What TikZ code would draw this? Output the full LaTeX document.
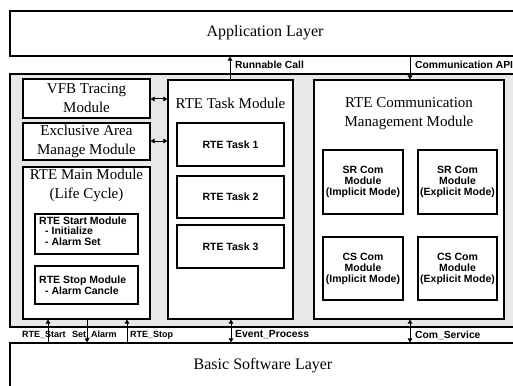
\documentclass[tikz,border=0pt]{standalone}
\usepackage{fontspec}
\setmainfont{Liberation Serif}
\newfontfamily\lsans{Liberation Sans}
\usetikzlibrary{fit,arrows.meta}
\begin{document}
\begin{tikzpicture}[x=1pt,y=-1pt,
  box/.style={draw, line width=1.1pt, fill=white, inner sep=0pt},
  ttl/.style={font=\fontsize{15}{19}\selectfont, align=center, inner sep=0pt},
  big/.style={font=\fontsize{16}{19}\selectfont, inner sep=0pt},
  lbl/.style={font=\lsans\bfseries\fontsize{10.3}{10}\selectfont, inner sep=0pt, anchor=west},
  lbs/.style={font=\lsans\bfseries\fontsize{9}{10}\selectfont, inner sep=0pt, anchor=west},
  sm/.style={font=\lsans\bfseries\fontsize{10.5}{11}\selectfont, align=center},
  lst/.style={font=\lsans\bfseries\fontsize{10.5}{9.6}\selectfont, align=left, inner sep=0pt},
  arr/.style={line width=1pt, -{Triangle[length=4pt,width=4.5pt]}},
  darr/.style={line width=1pt, {Triangle[length=4pt,width=4.5pt]}-{Triangle[length=4pt,width=4.5pt]}}]
\useasboundingbox (0,0) rectangle (513,385);
\fill[white] (0,0) rectangle (513,385);
% layers
\node[box, fit={(10,11)(530,56)}] (app) {};
\node[big] (apptxt) at (265,33) {Application Layer};
\node[draw, line width=1.1pt, fill=gray!18, inner sep=0pt, fit={(10,74)(530,327)}] (rte) {};
\node[box, fit={(10,343)(530,400)}] (bsw) {};
\node[big] (bswtxt) at (263,366) {Basic Software Layer};
% left column
\node[box, fit={(23,79)(150,118)}] (vfb) {};
\node[ttl] (vfbt) at (vfb.center) {VFB Tracing\\Module};
\node[box, fit={(23,123)(150,160)}] (excl) {};
\node[ttl] (exclt) at (excl.center) {Exclusive Area\\Manage Module};
\node[box, fit={(23,167)(150,319)}] (main) {};
\node[ttl] (maint) at (86.5,185) {RTE Main Module\\(Life Cycle)};
\node[box, fit={(35,214)(138,254)}] (start) {};
\node[lst, anchor=north west] (startt) at (39,217) {RTE Start Module\\[0.5pt]\hspace*{6pt}- Initialize\\[0.5pt]\hspace*{6pt}- Alarm Set};
\node[box, fit={(35,266)(138,304)}] (stop) {};
\node[lst, anchor=west] (stopt) at (39,285.5) {RTE Stop Module\\[0.5pt]\hspace*{6pt}- Alarm Cancle};
% task module
\node[box, fit={(168,80)(293,319)}] (task) {};
\node[ttl] (taskt) at (230.5,103) {RTE Task Module};
\node[box, fit={(177,123)(284,166)}] (t1) {};
\node[sm] (t1t) at (t1.center) {RTE Task 1};
\node[box, fit={(177,176)(284,218)}] (t2) {};
\node[sm] (t2t) at (t2.center) {RTE Task 2};
\node[box, fit={(177,225)(284,268)}] (t3) {};
\node[sm] (t3t) at (t3.center) {RTE Task 3};
% communication module
\node[box, fit={(314,80)(504,319)}] (com) {};
\node[ttl] (comt) at (409,113.5) {RTE Communication\\Management Module};
\node[box, fit={(323,150)(403,214)}] (sri) {};
\node[sm] (srit) at (sri.center) {SR Com\\Module\\(Implicit Mode)};
\node[box, fit={(418,150)(497,214)}] (sre) {};
\node[sm] (sret) at (sre.center) {SR Com\\Module\\(Explicit Mode)};
\node[box, fit={(323,237)(403,300)}] (csi) {};
\node[sm] (csit) at (csi.center) {CS Com\\Module\\(Implicit Mode)};
\node[box, fit={(418,237)(497,300)}] (cse) {};
\node[sm] (cset) at (cse.center) {CS Com\\Module\\(Explicit Mode)};
% connectors
\coordinate (xrc) at (230,0);
\coordinate (xca) at (410,0);
\draw[arr] (xrc |- task.north) -- (xrc |- app.south);
\draw[arr] (xca |- app.south) -- (xca |- com.north);
\node[lbl] (rcl) at (235,64.5) {Runnable Call};
\node[lbl] (cal) at (415,64.5) {Communication API};
\coordinate (y1) at (0,99);
\coordinate (y2) at (0,141);
\draw[darr] (vfb.east |- y1) -- (task.west |- y1);
\draw[darr] (excl.east |- y2) -- (task.west |- y2);
\coordinate (xs) at (48,0);
\coordinate (xa) at (87,0);
\coordinate (xp) at (127,0);
\coordinate (xe) at (231,0);
\coordinate (xc) at (410,0);
\draw[arr] (xs |- bsw.north) -- (xs |- main.south);
\draw[arr] (xa |- main.south) -- (xa |- bsw.north);
\draw[arr] (xp |- bsw.north) -- (xp |- main.south);
\draw[darr] (xe |- task.south) -- (xe |- bsw.north);
\draw[darr] (xc |- com.south) -- (xc |- bsw.north);
\node[lbs] (l1) at (22,335) {RTE\_Start};
\node[lbs] (l2) at (72,335) {Set\_Alarm};
\node[lbs] (l3) at (130,335) {RTE\_Stop};
\node[lbl] (l4) at (235,335) {Event\_Process};
\node[lbl] (l5) at (415,335) {Com\_Service};
\end{tikzpicture}
\end{document}
